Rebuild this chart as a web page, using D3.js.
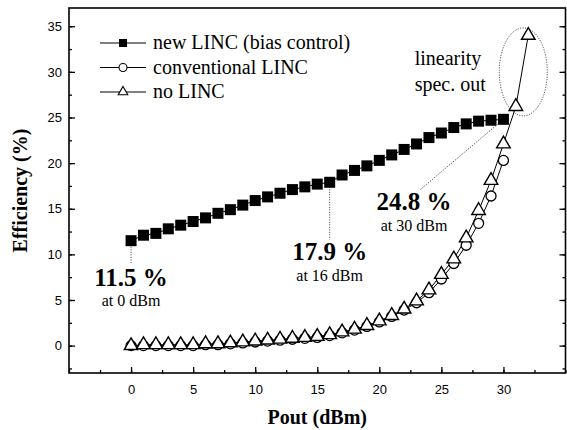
<!DOCTYPE html>
<html>
<head>
<meta charset="utf-8">
<script src="https://cdn.jsdelivr.net/npm/d3@7"></script>
<style>
  html, body { margin: 0; padding: 0; background: #fff; }
  svg { display: block; }
  .serif { font-family: "Liberation Serif", "Times New Roman", serif; }
  .tick text { font-family: "Liberation Sans", Arial, sans-serif; font-size: 13px; fill: #000; }
</style>
</head>
<body>
<svg id="chart"></svg>
<script>
// Efficiency vs Pout, three LINC variants

// data
const poutNew = d3.range(0, 31);
const effNew = [11.5, 12.1, 12.3, 12.8, 13.2, 13.6, 14.0, 14.5, 14.9, 15.4,
  15.9, 16.3, 16.7, 17.1, 17.4, 17.7, 17.9, 18.7, 19.2, 19.7,
  20.3, 20.9, 21.5, 22.1, 22.8, 23.3, 23.9, 24.3, 24.6, 24.7, 24.8];

const poutConv = d3.range(0, 31);
const effConv = [0.0, 0.0, 0.0, 0.0, 0.0, 0.0, 0.1, 0.1, 0.2, 0.3,
  0.4, 0.5, 0.6, 0.7, 0.8, 0.9, 1.1, 1.4, 1.7, 2.1,
  2.6, 3.2, 3.9, 4.7, 5.8, 7.3, 9.0, 11.0, 13.4, 16.4, 20.3];

const poutNo = d3.range(0, 33);
const effNo = [0.0, 0.1, 0.1, 0.1, 0.1, 0.1, 0.2, 0.2, 0.3, 0.4,
  0.5, 0.6, 0.7, 0.8, 0.9, 1.0, 1.2, 1.5, 1.8, 2.2,
  2.7, 3.3, 4.0, 4.9, 6.1, 7.8, 9.5, 11.8, 14.8, 18.1, 22.1, 26.2, 34.0];

const xTickVals = [0, 5, 10, 15, 20, 25, 30];
const yTickVals = [0, 5, 10, 15, 20, 25, 30, 35];

// annotations (data coords)
const bigLabels = [
  { x: 0, y: 6.5, text: "11.5 %" },
  { x: 16, y: 9.4, text: "17.9 %" },
  { x: 22.8, y: 14.9, text: "24.8 %" },
];
const smallLabels = [
  { x: 0, y: 4.3, text: "at 0 dBm" },
  { x: 16, y: 7.1, text: "at 16 dBm" },
  { x: 22.8, y: 12.6, text: "at 30 dBm" },
];
const leaders = [
  [[0, 11.1], [0, 9.0]],
  [[16, 17.4], [16, 11.6]],
  [[30, 24.8], [23.3, 17.1]],
];
const noteLines = [
  { x: 22.85, y: 30.7, text: "linearity" },
  { x: 22.85, y: 27.9, text: "spec. out" },
];
const spotEllipse = { cx: 31.6, cy: 30.0, rx: 24, ry: 44 };

const W = 567, H = 430;
const margin = { top: 8, right: 1.5, bottom: 57, left: 69 };
const innerW = W - margin.left - margin.right;
const innerH = H - margin.top - margin.bottom;

const svg = d3.select("#chart").attr("width", W).attr("height", H);
const g = svg.append("g").attr("transform", `translate(${margin.left},${margin.top})`);

const x = d3.scaleLinear().domain([-5, 35]).range([0, innerW]);
const y = d3.scaleLinear().domain([-3, 37]).range([innerH, 0]);

// minor ticks every 2.5
const xMinor = d3.range(-5, 35.01, 2.5);
const yMinor = d3.range(-2.5, 37, 2.5);

function styleAxis(sel) {
  sel.select(".domain").remove();
  sel.selectAll(".tick line").attr("stroke", "#000").attr("stroke-width", 1.3);
}

g.append("g").attr("transform", `translate(0,${innerH})`)
  .call(d3.axisBottom(x).tickValues(xMinor).tickSize(-3).tickFormat(""))
  .call(styleAxis);
g.append("g").attr("transform", `translate(0,${innerH})`)
  .call(d3.axisBottom(x).tickValues(xTickVals).tickSize(-6).tickPadding(12))
  .call(styleAxis);

g.append("g")
  .call(d3.axisLeft(y).tickValues(yMinor).tickSize(-3).tickFormat(""))
  .call(styleAxis);
g.append("g")
  .call(d3.axisLeft(y).tickValues(yTickVals).tickSize(-6).tickPadding(7))
  .call(styleAxis);

g.append("g").attr("transform", `translate(${innerW},0)`)
  .call(d3.axisRight(y).tickValues(yMinor).tickSize(-3).tickFormat(""))
  .call(styleAxis);
g.append("g").attr("transform", `translate(${innerW},0)`)
  .call(d3.axisRight(y).tickValues(yTickVals).tickSize(-6).tickFormat(""))
  .call(styleAxis);

// frame
g.append("rect")
  .attr("width", innerW).attr("height", innerH)
  .attr("fill", "none").attr("stroke", "#000").attr("stroke-width", 1.6);

// series lines
const line = d3.line().x(d => x(d[0])).y(d => y(d[1]));
const newPts = poutNew.map((p, i) => [p, effNew[i]]);
const convPts = poutConv.map((p, i) => [p, effConv[i]]);
const noPts = poutNo.map((p, i) => [p, effNo[i]]);

[newPts, convPts, noPts].forEach(pts => {
  g.append("path").datum(pts).attr("d", line)
    .attr("fill", "none").attr("stroke", "#000").attr("stroke-width", 1);
});

// leader lines + ellipse
leaders.forEach(l => {
  g.append("line")
    .attr("x1", x(l[0][0])).attr("y1", y(l[0][1]))
    .attr("x2", x(l[1][0])).attr("y2", y(l[1][1]))
    .attr("stroke", "#000").attr("stroke-width", 0.8)
    .attr("stroke-dasharray", "1,1.5");
});
g.append("ellipse")
  .attr("cx", x(spotEllipse.cx)).attr("cy", y(spotEllipse.cy))
  .attr("rx", spotEllipse.rx).attr("ry", spotEllipse.ry)
  .attr("fill", "none").attr("stroke", "#000").attr("stroke-width", 0.8)
  .attr("stroke-dasharray", "1,1.5");

// markers
const sq = 11;
g.append("g").selectAll("rect").data(newPts).join("rect")
  .attr("x", d => x(d[0]) - sq / 2).attr("y", d => y(d[1]) - sq / 2)
  .attr("width", sq).attr("height", sq).attr("fill", "#000");

g.append("g").selectAll("circle").data(convPts).join("circle")
  .attr("cx", d => x(d[0])).attr("cy", d => y(d[1])).attr("r", 5)
  .attr("fill", "#fff").attr("stroke", "#000").attr("stroke-width", 1.3);

const tri = d3.symbol(d3.symbolTriangle, 80);
g.append("g").selectAll("path").data(noPts).join("path")
  .attr("d", tri)
  .attr("transform", d => `translate(${x(d[0])},${y(d[1])})`)
  .attr("fill", "#fff").attr("stroke", "#000").attr("stroke-width", 1.4);

// annotations
g.selectAll("text.big").data(bigLabels).join("text")
  .attr("class", "big serif")
  .attr("x", d => x(d.x)).attr("y", d => y(d.y))
  .attr("text-anchor", "middle").attr("font-size", 25).attr("font-weight", "bold")
  .text(d => d.text);
g.selectAll("text.small").data(smallLabels).join("text")
  .attr("class", "small serif")
  .attr("x", d => x(d.x)).attr("y", d => y(d.y))
  .attr("text-anchor", "middle").attr("font-size", 16)
  .text(d => d.text);
g.selectAll("text.note").data(noteLines).join("text")
  .attr("class", "note serif")
  .attr("x", d => x(d.x)).attr("y", d => y(d.y))
  .attr("font-size", 20)
  .text(d => d.text);

// legend
const legendItems = [
  { label: "new LINC (bias control)", kind: "square" },
  { label: "conventional LINC", kind: "circle" },
  { label: "no LINC", kind: "triangle" },
];
const legend = svg.append("g").attr("transform", "translate(100,43)");
const li = legend.selectAll("g").data(legendItems).join("g")
  .attr("transform", (d, i) => `translate(0,${i * 24.5})`);
li.append("line").attr("x1", 0).attr("x2", 46).attr("y1", 0).attr("y2", 0)
  .attr("stroke", "#000").attr("stroke-width", 1);
li.each(function (d) {
  const s = d3.select(this);
  if (d.kind === "square") {
    s.append("rect").attr("x", 19).attr("y", -4).attr("width", 8).attr("height", 8).attr("fill", "#000");
  } else if (d.kind === "circle") {
    s.append("circle").attr("cx", 23).attr("cy", 0).attr("r", 4)
      .attr("fill", "#fff").attr("stroke", "#000").attr("stroke-width", 1.1);
  } else {
    s.append("path").attr("d", d3.symbol(d3.symbolTriangle, 40))
      .attr("transform", "translate(23,0)")
      .attr("fill", "#fff").attr("stroke", "#000").attr("stroke-width", 1.1);
  }
});
li.append("text").attr("class", "serif")
  .attr("x", 53).attr("y", 6).attr("font-size", 20)
  .text(d => d.label);

// axis titles
svg.append("text").attr("class", "serif")
  .attr("x", margin.left + x(15)).attr("y", 424)
  .attr("text-anchor", "middle").attr("font-size", 20).attr("font-weight", "bold")
  .text("Pout (dBm)");
svg.append("text").attr("class", "serif")
  .attr("transform", `translate(27,${margin.top + y(17)}) rotate(-90)`)
  .attr("text-anchor", "middle").attr("font-size", 20).attr("font-weight", "bold")
  .text("Efficiency (%)");
</script>
</body>
</html>
